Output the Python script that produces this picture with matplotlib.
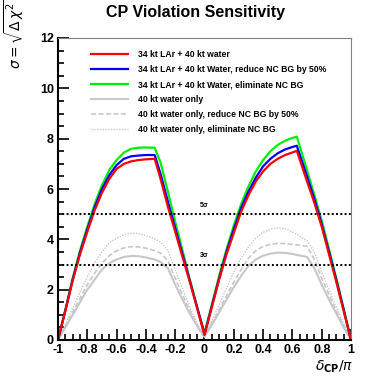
import numpy as np
import matplotlib
matplotlib.use('Agg')
import matplotlib.pyplot as plt
from matplotlib.ticker import MultipleLocator

plt.rcParams['font.family'] = ['Liberation Sans', 'DejaVu Sans']

# delta_CP / pi sample points
delta = [-1.0, -0.95, -0.9, -0.85, -0.8, -0.75, -0.7, -0.65, -0.6, -0.55, -0.5,
         -0.45, -0.4, -0.34, -0.3, -0.25, -0.2, -0.15, -0.1, -0.05, 0.0,
         0.05, 0.1, 0.15, 0.2, 0.25, 0.3, 0.35, 0.4, 0.45, 0.5,
         0.55, 0.6, 0.63, 0.7, 0.75, 0.8, 0.85, 0.9, 0.95, 1.0]

lar_water = [0.0, 1.15, 2.35, 3.4, 4.3, 5.15, 5.85, 6.4, 6.8, 7.0, 7.1,
             7.15, 7.18, 7.2, 6.4, 5.3, 4.3, 3.3, 2.3, 1.25, 0.2,
             1.3, 2.4, 3.4, 4.25, 5.1, 5.75, 6.3, 6.7, 7.0, 7.2,
             7.35, 7.45, 7.52, 6.3, 5.45, 4.5, 3.4, 2.3, 1.15, 0.0]
lar_water_nc50 = [0.0, 1.17, 2.4, 3.47, 4.4, 5.27, 6.0, 6.55, 6.95, 7.2, 7.3,
                  7.33, 7.35, 7.35, 6.6, 5.5, 4.45, 3.4, 2.35, 1.3, 0.22,
                  1.35, 2.45, 3.5, 4.4, 5.25, 5.9, 6.45, 6.9, 7.2, 7.42,
                  7.57, 7.67, 7.72, 6.5, 5.6, 4.6, 3.5, 2.38, 1.2, 0.0]
lar_water_nc0 = [0.0, 1.2, 2.45, 3.55, 4.5, 5.4, 6.15, 6.75, 7.15, 7.45, 7.6,
                 7.64, 7.65, 7.64, 7.05, 5.9, 4.7, 3.55, 2.4, 1.3, 0.28,
                 1.4, 2.55, 3.6, 4.55, 5.4, 6.1, 6.7, 7.15, 7.5, 7.75,
                 7.92, 8.03, 8.08, 6.75, 5.75, 4.75, 3.6, 2.45, 1.25, 0.0]
water = [0.0, 0.5, 1.0, 1.5, 2.0, 2.4, 2.8, 3.05, 3.2, 3.3, 3.34,
         3.33, 3.28, 3.2, 3.1, 2.85, 2.2, 1.6, 1.05, 0.55, 0.13,
         0.6, 1.1, 1.6, 2.1, 2.55, 2.95, 3.2, 3.35, 3.43, 3.47,
         3.46, 3.42, 3.38, 3.3, 2.85, 2.2, 1.6, 1.05, 0.5, 0.0]
water_nc50 = [0.0, 0.55, 1.1, 1.65, 2.2, 2.65, 3.05, 3.35, 3.55, 3.66, 3.71,
              3.7, 3.65, 3.55, 3.45, 3.15, 2.45, 1.8, 1.15, 0.6, 0.13,
              0.65, 1.2, 1.75, 2.3, 2.8, 3.25, 3.55, 3.72, 3.8, 3.84,
              3.83, 3.8, 3.78, 3.72, 3.2, 2.45, 1.8, 1.15, 0.58, 0.0]
water_nc0 = [0.0, 0.62, 1.25, 1.9, 2.5, 3.05, 3.5, 3.85, 4.05, 4.18, 4.24,
             4.23, 4.15, 4.02, 3.9, 3.55, 2.8, 2.05, 1.3, 0.65, 0.13,
             0.75, 1.4, 2.05, 2.7, 3.25, 3.7, 4.05, 4.28, 4.4, 4.46,
             4.42, 4.3, 4.2, 3.95, 3.5, 2.7, 2.0, 1.3, 0.65, 0.0]

labels = ['34 kt LAr + 40 kt water',
          '34 kt LAr + 40 kt Water, reduce NC BG by 50%',
          '34 kt LAr + 40 kt Water, eliminate NC BG',
          '40 kt water only',
          '40 kt water only, reduce NC BG by 50%',
          '40 kt water only, eliminate NC BG']
levels = [5, 3]
level_labels = ['5σ', '3σ']

fig = plt.figure(figsize=(3.9, 3.79), dpi=100)
ax = fig.add_axes([58 / 390, 1 - 340 / 379, 293 / 390, 302 / 379])

gray = '#c8c8c8'
ax.plot(delta, water, color=gray, lw=1.5, label=labels[3])
ax.plot(delta, water_nc50, color=gray, lw=1.2, ls=(0, (3, 1.5)), label=labels[4])
ax.plot(delta, water_nc0, color=gray, lw=1.0, ls=(0, (1, 1)), label=labels[5])
ax.plot(delta, lar_water_nc0, color='#00ee00', lw=1.6, label=labels[2])
ax.plot(delta, lar_water_nc50, color='#0000ff', lw=1.6, label=labels[1])
ax.plot(delta, lar_water, color='#ff0000', lw=1.6, label=labels[0])

for lv, lt in zip(levels, level_labels):
    ax.axhline(lv, color='black', lw=1.4, ls=(0, (1, 1.2)))
    ax.text(0.0, lv + 0.22, lt, fontsize=5, fontweight='bold', ha='center', va='bottom')

ax.set_xlim(-1, 1)
ax.set_ylim(0, 12)
ax.xaxis.set_minor_locator(MultipleLocator(0.05))
ax.yaxis.set_minor_locator(MultipleLocator(0.5))
ax.tick_params(which='both', direction='in', top=False, right=False, width=1.2)
ax.tick_params(which='major', length=8, labelsize=9)
ax.tick_params(axis='x', which='major', pad=3)
ax.tick_params(axis='y', which='major', pad=3)
ax.tick_params(which='minor', length=4)
ax.set_xticks(np.arange(-1, 1.01, 0.2))
ax.set_xticklabels(['-1', '-0.8', '-0.6', '-0.4', '-0.2', '0', '0.2', '0.4', '0.6', '0.8', '1'])
ax.set_yticks([0, 2, 4, 6, 8, 10, 12])
ax.set_yticklabels(['0', '2', '4', '6', '8', '10', '12'])
for lab in ax.get_xticklabels() + ax.get_yticklabels():
    lab.set_fontweight('bold')

ax.spines['left'].set_linewidth(1.5)
ax.spines['bottom'].set_linewidth(1.5)
ax.spines['top'].set_color('#808080')
ax.spines['right'].set_color('#808080')
ax.spines['top'].set_linewidth(0.8)
ax.spines['right'].set_linewidth(0.8)

handles, hl = ax.get_legend_handles_labels()
order = [hl.index(l) for l in labels]
ax.legend([handles[i] for i in order], [hl[i] for i in order],
          loc='upper left', bbox_to_anchor=(0.085, 0.985), frameon=False,
          prop={'size': 6.2, 'weight': 'bold'}, handlelength=4.3, handletextpad=1.2,
          labelspacing=0.7)

fig.text(0.5, 0.968, 'CP Violation Sensitivity', ha='center', va='center',
         fontsize=11.5, fontweight='bold')
fig.text(0.035, 0.91, r'$\sigma = \sqrt{\Delta\,\chi^2}$', rotation=90,
         ha='center', va='center', fontsize=10)
fig.text(0.857, 0.033, r'$\delta_{\mathbf{CP}}/\pi$', ha='center', va='center',
         fontsize=10)

fig.savefig('out.png', dpi=100)
